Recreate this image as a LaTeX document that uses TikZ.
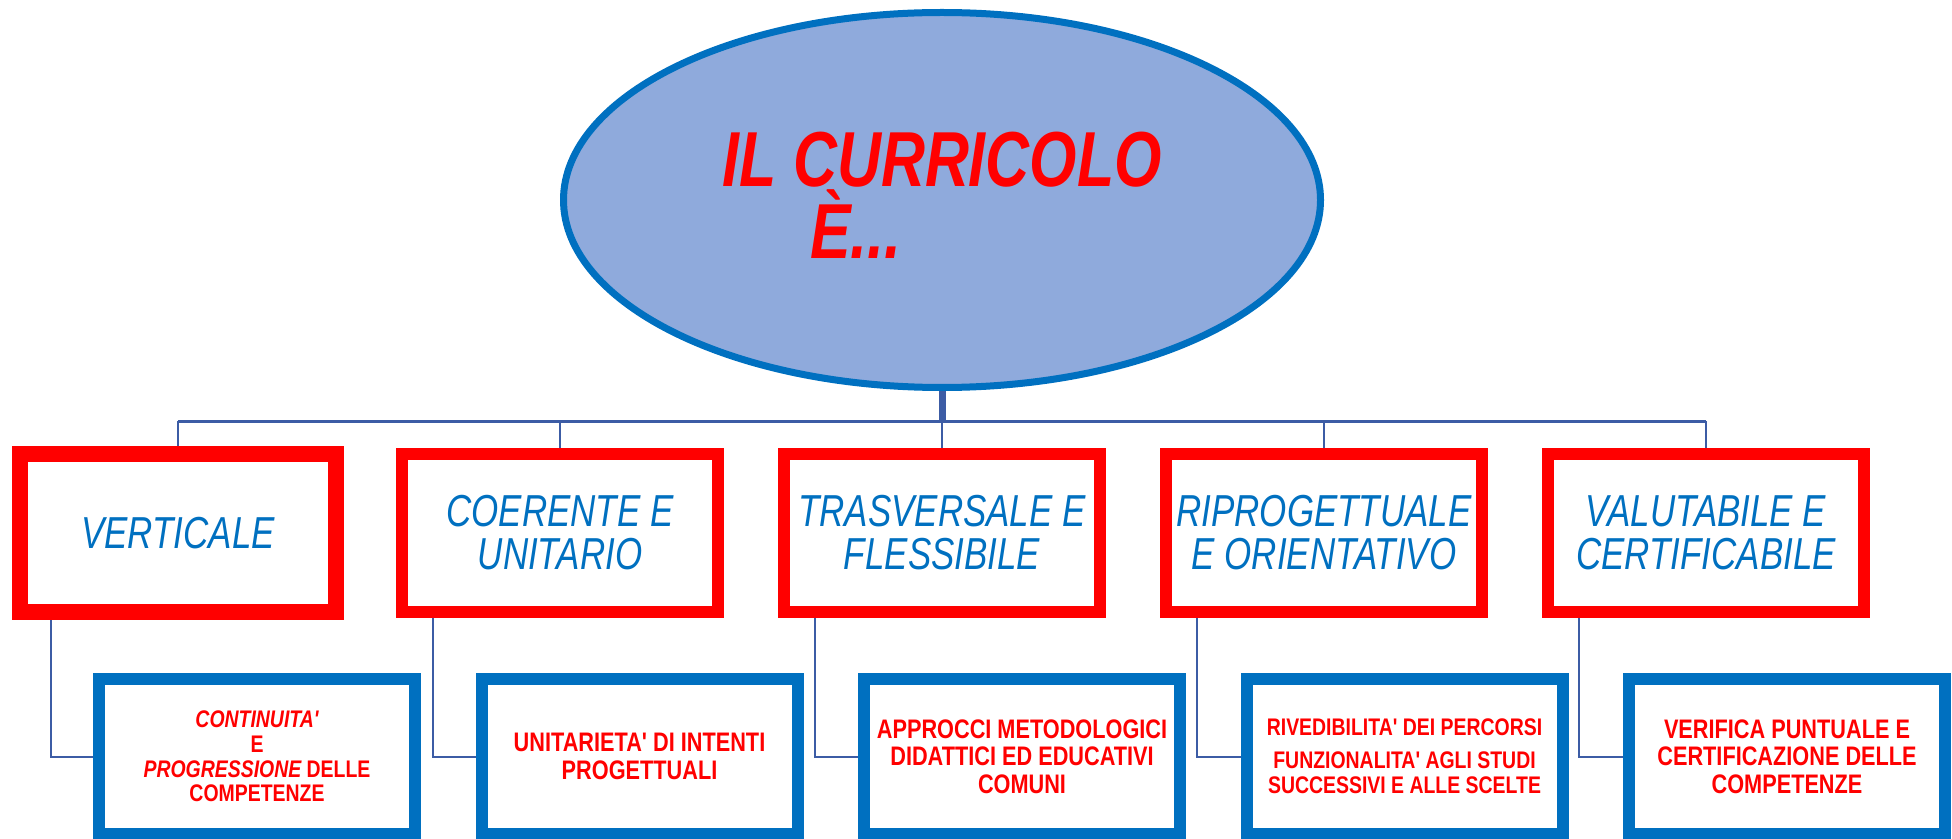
\documentclass[tikz,border=0pt]{standalone}
\usepackage{fontspec}
\setmainfont{Liberation Sans}
\newfontfamily\condT{Liberation Sans}[FakeStretch=0.78,Ligatures=TeXOff]
\newfontfamily\condB{Liberation Sans}[FakeStretch=0.81,Ligatures=TeXOff]
\usetikzlibrary{shapes.geometric}
\definecolor{eblue}{RGB}{0,112,192}
\definecolor{efill}{RGB}{143,170,220}
\definecolor{lnk}{RGB}{60,92,165}
\definecolor{rred}{RGB}{255,0,0}
\begin{document}
\begin{tikzpicture}[x=0.5pt,y=-0.5pt,
  rootnode/.style={ellipse, draw=eblue, line width=3.5pt, fill=efill,
    minimum width=378.5pt, minimum height=187.5pt, inner sep=0pt, align=center,
    text=rred, font=\condT\bfseries\itshape\fontsize{39pt}{36pt}\selectfont},
  redbox/.style={draw=rred, line width=6pt, fill=white, minimum width=158pt,
    minimum height=79pt, inner sep=0pt, align=center, text=eblue,
    font=\condT\itshape\fontsize{22.4pt}{21.5pt}\selectfont},
  bluebox/.style={draw=eblue, line width=6pt, fill=white, minimum width=158pt,
    minimum height=77.5pt, inner sep=0pt, align=center, text=rred,
    font=\condB\bfseries\fontsize{13.4pt}{13.85pt}\selectfont},
  smalltxt/.style={font=\condB\bfseries\fontsize{12pt}{12.35pt}\selectfont},
  link/.style={draw=lnk, line width=1pt},
  hline/.style={draw=lnk, line width=1.5pt},
  stem/.style={draw=lnk, line width=3.5pt},
]
\useasboundingbox (0,0) rectangle (1952,839);

% root
\node[rootnode] (root) at (942,200) {IL CURRICOLO\\\hspace*{-86pt}È...\\[-31pt]\mbox{}};

% red boxes
\node[redbox, line width=8pt] (r1) at (178,533) {VERTICALE};
\node[redbox] (r2) at (560,533) {COERENTE E\\UNITARIO};
\node[redbox] (r3) at (942,533) {TRASVERSALE E\\FLESSIBILE};
\node[redbox] (r4) at (1324,533) {RIPROGETTUALE\\E ORIENTATIVO};
\node[redbox] (r5) at (1706,533) {VALUTABILE E\\CERTIFICABILE};

% blue boxes
\node[bluebox, smalltxt] (b1) at (257,756.5) {{\itshape CONTINUITA'}\\E\\{\itshape PROGRESSIONE} DELLE\\COMPETENZE};
\node[bluebox] (b2) at (639.5,756.5) {UNITARIETA' DI INTENTI\\PROGETTUALI};
\node[bluebox] (b3) at (1022,756.5) {APPROCCI METODOLOGICI\\DIDATTICI ED EDUCATIVI\\COMUNI};
\node[bluebox, font=\condB\bfseries\fontsize{12pt}{12.5pt}\selectfont] (b4) at (1404.5,756.5) {RIVEDIBILITA' DEI PERCORSI\\[4pt]FUNZIONALITA' AGLI STUDI\\SUCCESSIVI E ALLE SCELTE};
\node[bluebox] (b5) at (1787,756.5) {VERIFICA PUNTUALE E\\CERTIFICAZIONE DELLE\\COMPETENZE};

% tree connectors
\coordinate (hub) at (942,421);
\draw[stem] (root.south) -- (hub);
\draw[hline] (r1.north |- hub) -- (r5.north |- hub);
\foreach \i in {1,...,5}{
  \draw[link] (r\i.north |- hub) -- (r\i.north);
  \draw[link] ([xshift=-63.5pt]r\i.south) |- (b\i.west);
}
\end{tikzpicture}
\end{document}
